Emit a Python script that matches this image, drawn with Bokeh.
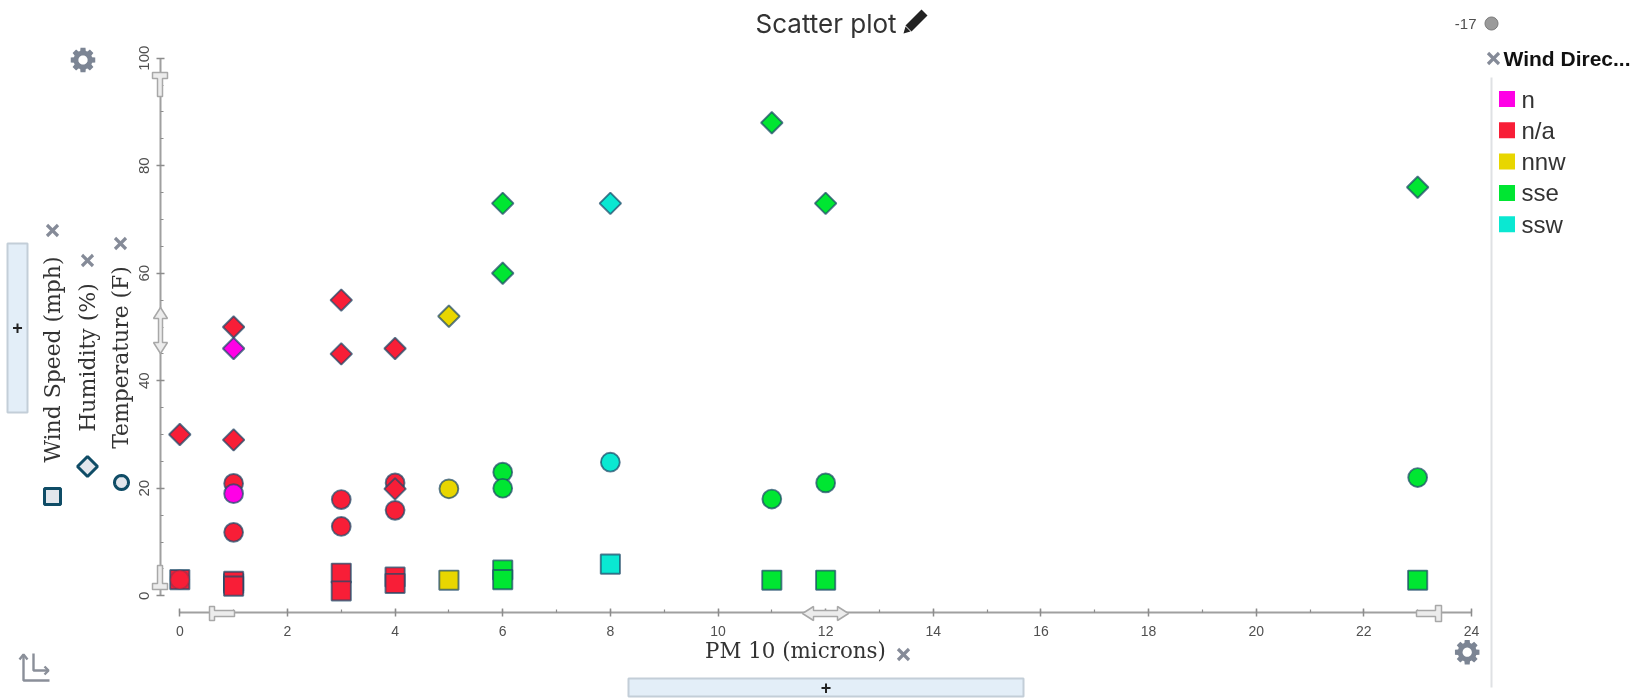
import math
from bokeh.embed import file_html
from bokeh.resources import INLINE
from bokeh.plotting import figure
from bokeh.layouts import column
from bokeh.core.properties import value
from bokeh.models import Range1d, FixedTicker

# ---- data ----
colors = {"n": "#ff00e6", "n/a": "#f81e37", "nnw": "#e8d600", "sse": "#00e632", "ssw": "#0ae8d2"}
legend_names = ["n", "n/a", "nnw", "sse", "ssw"]

wind_pm = [1, 0, 1, 1, 3, 3, 4, 4, 5, 6, 6, 8, 11, 12, 23]
wind_val = [2.3, 3, 2.7, 1.8, 4.2, 0.9, 3.5, 2.3, 2.9, 4.8, 3.0, 5.9, 2.9, 2.9, 2.9]
wind_dir = ["n", "n/a", "n/a", "n/a", "n/a", "n/a", "n/a", "n/a", "nnw", "sse", "sse", "ssw", "sse", "sse", "sse"]

temp_pm = [0, 1, 1, 1, 3, 3, 4, 4, 5, 6, 6, 8, 11, 12, 23]
temp_val = [3, 20.9, 11.8, 19, 17.9, 12.9, 21, 15.9, 19.9, 23, 20, 24.85, 18, 21, 22]
temp_dir = ["n/a", "n/a", "n/a", "n", "n/a", "n/a", "n/a", "n/a", "nnw", "sse", "sse", "ssw", "sse", "sse", "sse"]

hum_pm = [0, 1, 1, 1, 3, 3, 4, 4, 5, 6, 6, 8, 11, 12, 23]
hum_val = [30, 46, 50, 29, 55, 45, 46, 19.9, 52, 73, 60, 73, 88, 73, 76]
hum_dir = ["n/a", "n", "n/a", "n/a", "n/a", "n/a", "n/a", "n/a", "nnw", "sse", "sse", "ssw", "sse", "sse", "sse"]

# ---- layout: both figures sit at the window's corner, so canvas pixels are reference pixels ----
W, H = 1639, 698
F_L, F_R, F_T, F_B = 160, 1485, 45, 612
X0_PX, X_SCALE = 179.3, 53.82   # px of PM=0, px per unit
Y0_PX, Y_SCALE = 595.3, 5.376   # px of value 0, px per unit
PIN = {"position": "fixed", "left": "0px", "top": "0px"}

def fx(px):
    return (px - X0_PX) / X_SCALE

def fy(py):
    return (Y0_PX - py) / Y_SCALE

p = figure(width=W, height=H, output_backend="svg", toolbar_location=None, frame_align=False,
           x_range=Range1d(fx(F_L), fx(F_R)), y_range=Range1d(fy(F_B), fy(F_T)),
           min_border_left=F_L, min_border_right=W - F_R, min_border_top=F_T, min_border_bottom=H - F_B,
           background_fill_color="white", border_fill_color="white", outline_line_color=None)
p.styles = PIN
p.grid.visible = False

TICK = "#8c8c8c"
for ax in (p.xaxis[0], p.yaxis[0]):
    ax.axis_line_color = "#a0a0a0"
    ax.axis_line_width = 2
    ax.major_tick_line_color = TICK
    ax.minor_tick_line_color = TICK
    ax.major_tick_line_width = 1.5
    ax.minor_tick_line_width = 1.2
    ax.major_tick_in = 4
    ax.major_tick_out = 4
    ax.minor_tick_in = 3
    ax.minor_tick_out = 0
    ax.major_label_text_font = "Liberation Sans"
    ax.major_label_text_color = "#505050"

p.xaxis[0].bounds = (0, 24)
p.xaxis[0].ticker = FixedTicker(ticks=list(range(0, 25, 2)), minor_ticks=list(range(0, 25)))
p.xaxis[0].major_label_standoff = 9
p.xaxis[0].major_label_text_font_size = "14px"
p.yaxis[0].bounds = (0, 100)
p.yaxis[0].ticker = FixedTicker(ticks=list(range(0, 101, 20)), minor_ticks=list(range(0, 101, 5)))
p.yaxis[0].major_label_orientation = "vertical"
p.yaxis[0].major_label_standoff = 7
p.yaxis[0].major_label_text_font_size = "15px"

# ---- marks ----
MK_LINE = "#1d4a68"
MK_ALPHA = 0.72
MK_WIDTH = 1.9
p.scatter(wind_pm, wind_val, marker="square", size=19.2, fill_color=[colors[d] for d in wind_dir],
          line_color=MK_LINE, line_alpha=MK_ALPHA, line_width=MK_WIDTH)
p.scatter(temp_pm, temp_val, marker="circle", size=18.8, fill_color=[colors[d] for d in temp_dir],
          line_color=MK_LINE, line_alpha=[0.25 if x == 0 else MK_ALPHA for x in temp_pm], line_width=MK_WIDTH)
p.scatter(hum_pm, hum_val, marker="square", size=15.2, angle=math.pi / 4, fill_color=[colors[d] for d in hum_dir],
          line_color=MK_LINE, line_alpha=MK_ALPHA, line_width=MK_WIDTH)

# ---- a transparent sheet over the plot for what lies round it (reference pixels) ----
ov = figure(width=W, height=H, output_backend="svg", toolbar_location=None, frame_align=False,
            x_range=Range1d(0, W), y_range=Range1d(H, 0), min_border=0,
            background_fill_alpha=0.0, border_fill_alpha=0.0, outline_line_color=None)
ov.styles = PIN
ov.axis.visible = False
ov.grid.visible = False

def poly(pts, fill=None, line=None, width=1.0):
    ov.patch([a for a, _ in pts], [b for _, b in pts], fill_color=fill if fill else "white",
             fill_alpha=1.0 if fill else 0.0, line_color=line if line else "white",
             line_alpha=1.0 if line else 0.0, line_width=width)

def stroke(pts, color, width):
    ov.line([a for a, _ in pts], [b for _, b in pts], line_color=color, line_width=width)

def text(px, py, s, font, size, color="#333333", style="normal", align="left", base="middle", angle=0.0):
    ov.text([px], [py], text=[s], text_font=value(font), text_font_size=value(f"{size}px"), text_color=color,
            text_font_style=style, text_align=align, text_baseline=base, angle=angle)

def ring(cx, cy, r):
    return [(cx + r * math.cos(k * math.pi / 12), cy + r * math.sin(k * math.pi / 12)) for k in range(24)]

def cross(cx, cy, r=5.5):
    stroke([(cx - r, cy - r), (cx + r, cy + r)], "#858b98", 3.2)
    stroke([(cx - r, cy + r), (cx + r, cy - r)], "#858b98", 3.2)

def gear(cx, cy, R=12.5, r=9.5, hole=4.6, color="#7c8594"):
    pts = []
    for i in range(8):
        a = i * math.pi / 4
        for da, rr in ((-0.30, r), (-0.20, R), (0.20, R), (0.30, r)):
            pts.append((cx + rr * math.cos(a + da), cy + rr * math.sin(a + da)))
    poly(pts, color)
    poly(ring(cx, cy, hole), "white")

HF, HL = "#ececec", "#a8a8a8"

# titles
text(755, 23, "Scatter plot", "Inter", 26, "#333333")
SERIF = "DejaVu Serif"
text(795, 650, "PM 10 (microns)", SERIF, 21.4, "#333333", align="center")
text(52, 359, "Wind Speed (mph)", SERIF, 21.9, "#333333", align="center", angle=math.pi / 2)
text(87, 357, "Humidity (%)", SERIF, 22, "#333333", align="center", angle=math.pi / 2)
text(120, 357, "Temperature (F)", SERIF, 21.9, "#333333", align="center", angle=math.pi / 2)

# pencil
poly([(921, 9), (927, 15), (911, 31), (905, 25)], "#222222")
poly([(905, 26), (910, 31), (903, 33)], "#222222")

# crosses and gears
cross(52, 230)
cross(87, 260)
cross(120, 243)
cross(903, 654)
cross(1493, 58)
gear(82.5, 59.5)
gear(1466.7, 651.7)

# add-panels
poly([(7, 243), (27, 243), (27, 412), (7, 412)], "#e3eef8", "#c3ced8", 2)
text(17, 327, "+", "Liberation Sans", 18, "#222222", "bold", align="center")
poly([(628, 678), (1023, 678), (1023, 696), (628, 696)], "#e3eef8", "#c3ced8", 2)
text(825.5, 687, "+", "Liberation Sans", 18, "#222222", "bold", align="center")

# axis key markers
KEY, KEYF = "#0f4c66", "#e2e6ec"
poly([(44, 488), (60, 488), (60, 504), (44, 504)], KEYF, KEY, 3)
poly([(87, 456), (97, 466), (87, 476), (77, 466)], KEYF, KEY, 3)
poly(ring(121, 482, 7), KEYF, KEY, 3)

# swap icon
ICON = "#8a8f99"
stroke([(23, 654), (23, 680), (49, 680)], ICON, 2.4)
stroke([(19, 659), (23, 654), (27, 659)], ICON, 2.4)
stroke([(33, 653), (33, 670), (48, 670)], ICON, 2.4)
stroke([(44, 666), (48, 670), (44, 674)], ICON, 2.4)

# axis handles
poly([(209, 606), (214, 606), (214, 610), (234, 610), (234, 616), (214, 616), (214, 620), (209, 620)], HF, HL, 1.5)
poly([(802, 613), (813, 606), (813, 610), (837, 610), (837, 606), (848, 613), (837, 620), (837, 616), (813, 616), (813, 620)], HF, HL, 1.5)
poly([(1416, 610), (1435, 610), (1435, 605), (1441, 605), (1441, 621), (1435, 621), (1435, 616), (1416, 616)], HF, HL, 1.5)
poly([(152, 72), (167, 72), (167, 78), (162, 78), (162, 96), (157, 96), (157, 78), (152, 78)], HF, HL, 1.5)
poly([(160, 307), (167, 318), (162, 318), (162, 342), (167, 342), (160, 353), (153, 342), (158, 342), (158, 318), (153, 318)], HF, HL, 1.5)
poly([(157, 565), (162, 565), (162, 583), (167, 583), (167, 589), (152, 589), (152, 583), (157, 583)], HF, HL, 1.5)

# legend rail, heading and keys
poly([(1490, 77), (1492, 77), (1492, 687), (1490, 687)], "#dfe1e4")
text(1503, 58, "Wind Direc...", "Liberation Sans", 21, "#111111", "bold")
for i, name in enumerate(legend_names):
    ly = 98.5 + i * 31.3
    poly([(1498.5, ly - 8), (1514.5, ly - 8), (1514.5, ly + 8), (1498.5, ly + 8)], colors[name])
    text(1521, ly, name, "Liberation Sans", 24, "#333333")

# opacity control
text(1476, 23, "-17", "Liberation Sans", 15, "#505050", align="right")
poly(ring(1491, 23, 6.5), "#9a9a9a", "#7a7a7a", 1)

open("out.html", "w").write(file_html(column(p, ov), INLINE))
